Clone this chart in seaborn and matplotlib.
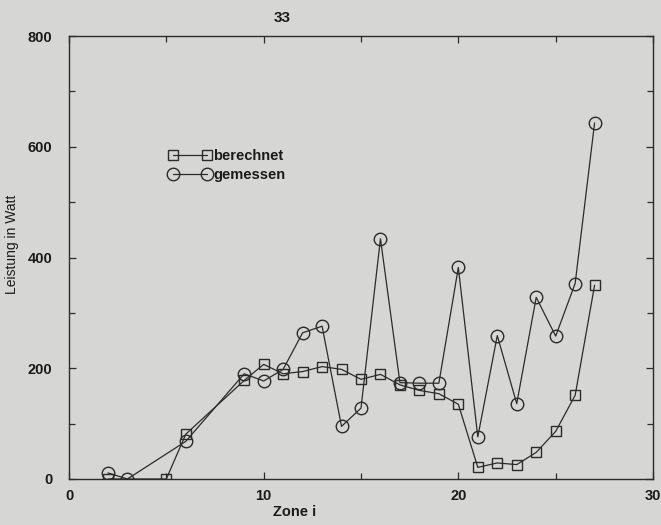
import matplotlib
matplotlib.use("Agg")
import matplotlib.pyplot as plt
import seaborn as sns
import pandas as pd
from matplotlib.ticker import MultipleLocator

# Calculated power per zone
zones_calc = [2, 5, 6, 9, 10, 11, 12, 13, 14, 15, 16, 17, 18, 19, 20, 21, 22, 23, 24, 25, 26, 27]
power_calc = [0, 0, 81, 178, 207, 190, 194, 203, 198, 180, 189, 170, 160, 154, 135, 21, 29, 26, 48, 86, 151, 350]

# Measured power per zone
zones_meas = [2, 3, 6, 9, 10, 11, 12, 13, 14, 15, 16, 17, 18, 19, 20, 21, 22, 23, 24, 25, 26, 27]
power_meas = [11, 0, 68, 190, 177, 198, 264, 276, 95, 128, 434, 174, 173, 173, 382, 76, 259, 136, 328, 258, 353, 643]

series_labels = ["berechnet", "gemessen"]
x_ticks = [0, 10, 20, 30]
y_ticks = [0, 200, 400, 600, 800]

paper = "#d6d6d4"
ink = "#2b2b2b"

sns.set_theme(style="ticks")
plt.rcParams["font.family"] = ["Liberation Sans", "DejaVu Sans"]

df_calc = pd.DataFrame({"Zone": zones_calc, "Leistung": power_calc})
df_meas = pd.DataFrame({"Zone": zones_meas, "Leistung": power_meas})

fig = plt.figure(figsize=(6.61, 5.25), dpi=100, facecolor=paper)
ax = fig.add_axes([69 / 661, 1 - 479 / 525, (653 - 69) / 661, (479 - 36) / 525])
ax.set_facecolor(paper)

common = dict(color=ink, linewidth=0.9, markerfacecolor="none",
              markeredgecolor=ink, markeredgewidth=1.0)
sns.lineplot(data=df_calc, x="Zone", y="Leistung", ax=ax, marker="s",
             markersize=7.5, label=series_labels[0], **common)
sns.lineplot(data=df_meas, x="Zone", y="Leistung", ax=ax, marker="o",
             markersize=9, label=series_labels[1], **common)

ax.set_xlim(0, 30)
ax.set_ylim(0, 800)
ax.set_xticks(x_ticks)
ax.set_yticks(y_ticks)
ax.xaxis.set_minor_locator(MultipleLocator(5))
ax.yaxis.set_minor_locator(MultipleLocator(100))
ax.tick_params(which="both", direction="in", top=True, right=True,
               color=ink, width=0.9)
ax.tick_params(which="major", length=5, labelsize=10.5, labelcolor="#1a1a1a")
ax.tick_params(which="minor", length=4)
ax.tick_params(axis="y", which="major", pad=12)
ax.tick_params(axis="x", which="major", pad=7)
for lbl in ax.get_xticklabels() + ax.get_yticklabels():
    lbl.set_fontweight("bold")
for s in ax.spines.values():
    s.set_color(ink)
    s.set_linewidth(1.0)

ax.set_xlabel("Zone i", fontsize=10.5, fontweight="bold", color="#1a1a1a")
ax.xaxis.set_label_coords((295 - 69) / 584, -0.058)
ax.set_ylabel("Leistung in Watt", fontsize=10, color="#1a1a1a")
ax.yaxis.set_label_coords(-0.085, 0.53)

handles, labels = ax.get_legend_handles_labels()
leg = ax.legend(handles, labels, loc="upper left",
                bbox_to_anchor=((163 - 69) / 584, (479 - 143) / 443),
                frameon=False, numpoints=2, handlelength=2.9,
                handletextpad=0.15, labelspacing=0.35, borderaxespad=0,
                prop={"weight": "bold", "size": 10.5})
for t in leg.get_texts():
    t.set_color("#1a1a1a")

fig.text(282 / 661, 1 - 18 / 525, "33", ha="center", va="center",
         fontsize=11, fontweight="bold", color="#1a1a1a")

fig.savefig("out.png", dpi=100, facecolor=paper)
